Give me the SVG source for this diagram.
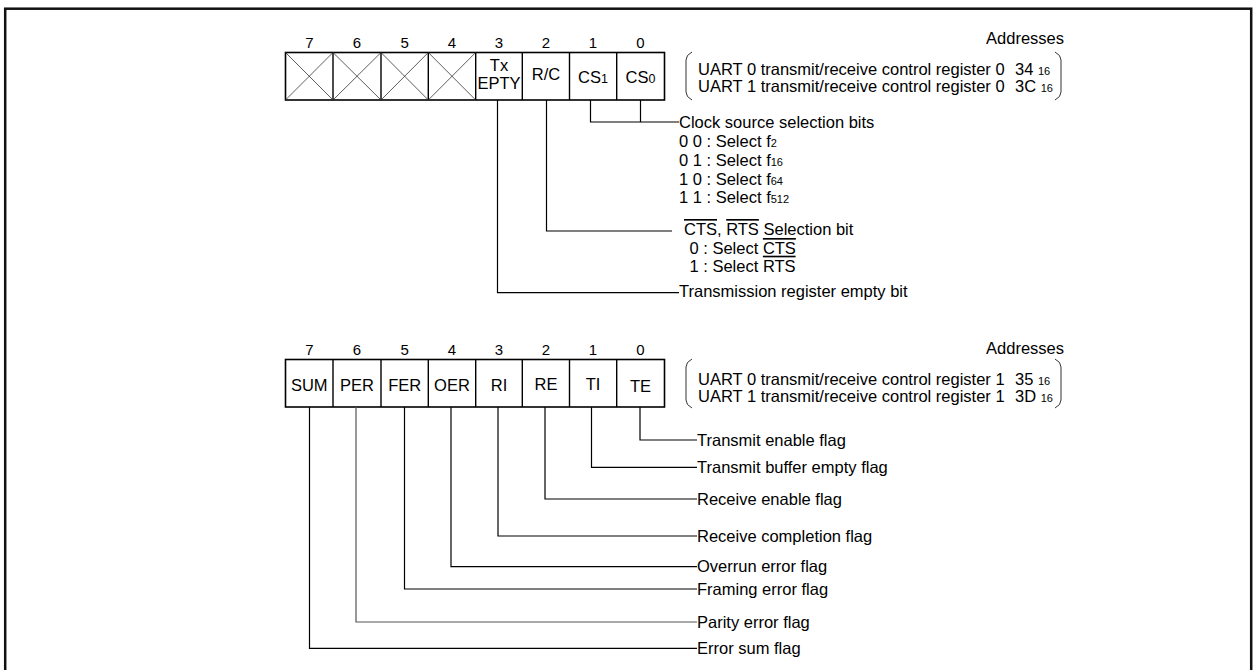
<svg xmlns="http://www.w3.org/2000/svg" width="1253" height="670" viewBox="0 0 1253 670">
<style>
text{font-family:"Liberation Sans",Arial,sans-serif;fill:#000}
.t{font-size:16.5px}
.n{font-size:15px;text-anchor:middle}
.c{font-size:16.5px;text-anchor:middle}
.s{font-size:11px}
.s12{font-size:12.5px}
.reg{fill:#fff;stroke:#000;stroke-width:1.6}
.div{stroke:#000;stroke-width:1.4}
.x{stroke:#333;stroke-width:0.8}
.br{fill:none;stroke:#333;stroke-width:1}
.ol{text-decoration:overline}
#connectors path{fill:none;stroke:#000;stroke-width:1.2}
</style>
<rect x="5.2" y="8.7" width="1246" height="700" fill="#fff" stroke="#111" stroke-width="2.5"/>

<g id="reg0">
<rect class="reg" x="285.5" y="52.5" width="379" height="47.5"/>
<g class="div">
<line x1="333" y1="52.5" x2="333" y2="100"/>
<line x1="381" y1="52.5" x2="381" y2="100"/>
<line x1="428.3" y1="52.5" x2="428.3" y2="100"/>
<line x1="475.7" y1="52.5" x2="475.7" y2="100"/>
<line x1="522.3" y1="52.5" x2="522.3" y2="100"/>
<line x1="569.5" y1="52.5" x2="569.5" y2="100"/>
<line x1="616.7" y1="52.5" x2="616.7" y2="100"/>
</g>
<g class="x">
<line x1="285.5" y1="52.5" x2="333" y2="100"/><line x1="333" y1="52.5" x2="285.5" y2="100"/>
<line x1="333" y1="52.5" x2="381" y2="100"/><line x1="381" y1="52.5" x2="333" y2="100"/>
<line x1="381" y1="52.5" x2="428.3" y2="100"/><line x1="428.3" y1="52.5" x2="381" y2="100"/>
<line x1="428.3" y1="52.5" x2="475.7" y2="100"/><line x1="475.7" y1="52.5" x2="428.3" y2="100"/>
</g>
<text class="n" x="309.3" y="48">7</text>
<text class="n" x="357" y="48">6</text>
<text class="n" x="404.7" y="48">5</text>
<text class="n" x="452" y="48">4</text>
<text class="n" x="499" y="48">3</text>
<text class="n" x="546" y="48">2</text>
<text class="n" x="593" y="48">1</text>
<text class="n" x="640.5" y="48">0</text>
<text class="c" x="499" y="71">Tx</text>
<text class="c" x="499" y="88.5">EPTY</text>
<text class="c" x="546" y="79.5">R/C</text>
<text class="c" x="593" y="83">CS<tspan class="s12">1</tspan></text>
<text class="c" x="640.5" y="83">CS<tspan class="s12">0</tspan></text>
</g>

<g id="addr0">
<text class="t" x="1064" y="44" text-anchor="end">Addresses</text>
<path class="br" d="M692 52 Q686 55 686 60 V92 Q686 97 692 100"/>
<path class="br" d="M1055 52 Q1061 55 1061 60 V92 Q1061 97 1055 100"/>
<text class="t" x="698" y="75">UART 0 transmit/receive control register 0</text>
<text class="t" x="1015" y="75">34 <tspan class="s">16</tspan></text>
<text class="t" x="698" y="91.7">UART 1 transmit/receive control register 0</text>
<text class="t" x="1015" y="91.7">3C <tspan class="s">16</tspan></text>
</g>

<g id="desc0">
<text class="t" x="679" y="128">Clock source selection bits</text>
<text class="t" x="679" y="147.3">0 0 : Select f<tspan class="s">2</tspan></text>
<text class="t" x="679" y="166">0 1 : Select f<tspan class="s">16</tspan></text>
<text class="t" x="679" y="184.7">1 0 : Select f<tspan class="s">64</tspan></text>
<text class="t" x="679" y="202.7">1 1 : Select f<tspan class="s">512</tspan></text>
<text class="t" x="684" y="235"><tspan class="ol">CTS</tspan>, <tspan class="ol">RTS</tspan> Selection bit</text>
<text class="t" x="689.5" y="254">0 : Select <tspan class="ol">CTS</tspan></text>
<text class="t" x="689.5" y="271.7">1 : Select <tspan class="ol">RTS</tspan></text>
<text class="t" x="679" y="296.7">Transmission register empty bit</text>
</g>

<g id="reg1">
<rect class="reg" x="285.5" y="359.5" width="379" height="47.5"/>
<g class="div">
<line x1="333" y1="359.5" x2="333" y2="407"/>
<line x1="381" y1="359.5" x2="381" y2="407"/>
<line x1="428.3" y1="359.5" x2="428.3" y2="407"/>
<line x1="475.7" y1="359.5" x2="475.7" y2="407"/>
<line x1="522.3" y1="359.5" x2="522.3" y2="407"/>
<line x1="569.5" y1="359.5" x2="569.5" y2="407"/>
<line x1="616.7" y1="359.5" x2="616.7" y2="407"/>
</g>
<text class="n" x="309.3" y="355">7</text>
<text class="n" x="357" y="355">6</text>
<text class="n" x="404.7" y="355">5</text>
<text class="n" x="452" y="355">4</text>
<text class="n" x="499" y="355">3</text>
<text class="n" x="546" y="355">2</text>
<text class="n" x="593" y="355">1</text>
<text class="n" x="640.5" y="355">0</text>
<text class="c" x="309.3" y="391">SUM</text>
<text class="c" x="357" y="391">PER</text>
<text class="c" x="404.7" y="391">FER</text>
<text class="c" x="452" y="391">OER</text>
<text class="c" x="499" y="391">RI</text>
<text class="c" x="546" y="390">RE</text>
<text class="c" x="593" y="390">TI</text>
<text class="c" x="640.5" y="391.5">TE</text>
</g>

<g id="addr1">
<text class="t" x="1064" y="354" text-anchor="end">Addresses</text>
<path class="br" d="M692 359 Q686 362 686 367 V400 Q686 405 692 408"/>
<path class="br" d="M1055 359 Q1061 362 1061 367 V400 Q1061 405 1055 408"/>
<text class="t" x="698" y="385">UART 0 transmit/receive control register 1</text>
<text class="t" x="1015" y="385">35 <tspan class="s">16</tspan></text>
<text class="t" x="698" y="401.7">UART 1 transmit/receive control register 1</text>
<text class="t" x="1015" y="401.7">3D <tspan class="s">16</tspan></text>
</g>

<g id="desc1">
<text class="t" x="697" y="445.5">Transmit enable flag</text>
<text class="t" x="697" y="473">Transmit buffer empty flag</text>
<text class="t" x="697" y="504.5">Receive enable flag</text>
<text class="t" x="697" y="541.5">Receive completion flag</text>
<text class="t" x="697" y="572">Overrun error flag</text>
<text class="t" x="697" y="594.5">Framing error flag</text>
<text class="t" x="697" y="627.5">Parity error flag</text>
<text class="t" x="697" y="654">Error sum flag</text>
</g>

<g id="connectors">
<path d="M590.5 100 V122 H679"/>
<path d="M640.5 100 V122"/>
<path d="M546.5 100 V231 H672"/>
<path d="M497.5 100 V292.7 H679"/>
<path d="M640 407 V440 H697"/>
<path d="M591.5 407 V467.3 H697"/>
<path d="M545 407 V499 H697"/>
<path d="M498 407 V536 H697"/>
<path d="M451 407 V566.7 H697"/>
<path d="M404.5 407 V589 H697"/>
<path d="M356 407 V622 H697" style="stroke:#555"/>
<path d="M309.5 407 V648.3 H697"/>
</g>
</svg>
